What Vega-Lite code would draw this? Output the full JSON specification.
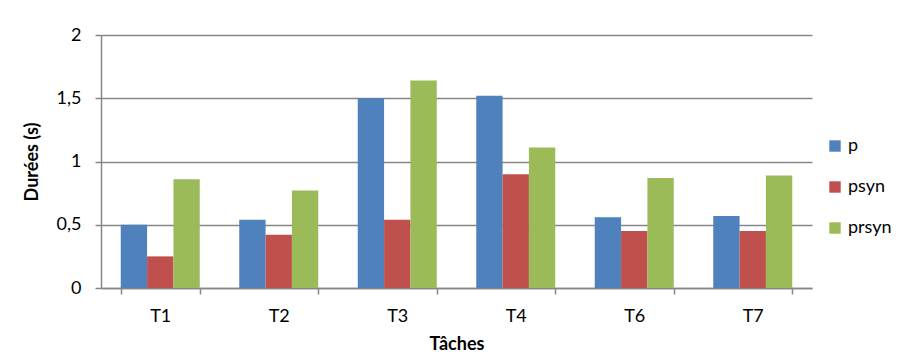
{
  "$schema": "https://vega.github.io/schema/vega-lite/v6.json",
  "autosize": "none",
  "width": 711,
  "height": 253,
  "padding": {"left": 101, "top": 35, "right": 102, "bottom": 67},
  "background": "white",
  "config": {
    "view": {"stroke": null},
    "font": "Lato",
    "axis": {
      "labelFont": "Lato",
      "labelFontSize": 18,
      "labelColor": "#000000",
      "titleFont": "Lato",
      "titleFontSize": 18,
      "titleFontWeight": "bold",
      "titleColor": "#000000",
      "domainColor": "#868686",
      "tickColor": "#868686",
      "gridColor": "#868686",
      "domainWidth": 1.5,
      "tickWidth": 1.5,
      "gridWidth": 1.5,
      "tickSize": 6
    },
    "legend": {
      "labelFont": "Lato",
      "labelFontSize": 18,
      "labelColor": "#000000"
    }
  },
  "data": {
    "values": [
      {"tache": "T1", "serie": "p", "duree": 0.5},
      {"tache": "T1", "serie": "psyn", "duree": 0.25},
      {"tache": "T1", "serie": "prsyn", "duree": 0.86},
      {"tache": "T2", "serie": "p", "duree": 0.54},
      {"tache": "T2", "serie": "psyn", "duree": 0.42},
      {"tache": "T2", "serie": "prsyn", "duree": 0.77},
      {"tache": "T3", "serie": "p", "duree": 1.5},
      {"tache": "T3", "serie": "psyn", "duree": 0.54},
      {"tache": "T3", "serie": "prsyn", "duree": 1.64},
      {"tache": "T4", "serie": "p", "duree": 1.52},
      {"tache": "T4", "serie": "psyn", "duree": 0.9},
      {"tache": "T4", "serie": "prsyn", "duree": 1.11},
      {"tache": "T6", "serie": "p", "duree": 0.56},
      {"tache": "T6", "serie": "psyn", "duree": 0.45},
      {"tache": "T6", "serie": "prsyn", "duree": 0.87},
      {"tache": "T7", "serie": "p", "duree": 0.57},
      {"tache": "T7", "serie": "psyn", "duree": 0.45},
      {"tache": "T7", "serie": "prsyn", "duree": 0.89}
    ]
  },
  "mark": {"type": "bar"},
  "encoding": {
    "x": {
      "field": "tache",
      "type": "nominal",
      "title": "Tâches",
      "scale": {"paddingInner": 0.3333, "paddingOuter": 0.1667},
      "axis": {
        "labelAngle": 0,
        "tickBand": "extent",
        "labelPadding": 13,
        "titlePadding": 10,
        "grid": false
      }
    },
    "xOffset": {
      "field": "serie",
      "type": "nominal",
      "sort": ["p", "psyn", "prsyn"],
      "scale": {"paddingInner": 0, "paddingOuter": 0}
    },
    "y": {
      "field": "duree",
      "type": "quantitative",
      "title": "Durées (s)",
      "scale": {"domain": [0, 2], "nice": false},
      "axis": {
        "values": [0, 0.5, 1, 1.5, 2],
        "labelExpr": "replace(format(datum.value, '~g'), '.', ',')",
        "labelPadding": 14,
        "titlePadding": 15,
        "grid": true
      }
    },
    "color": {
      "field": "serie",
      "type": "nominal",
      "title": null,
      "sort": ["p", "psyn", "prsyn"],
      "scale": {
        "domain": ["p", "psyn", "prsyn"],
        "range": ["#4F81BD", "#C0504D", "#9BBB59"]
      },
      "legend": {
        "orient": "none",
        "legendX": 725,
        "legendY": 102,
        "symbolType": "square",
        "symbolSize": 130,
        "symbolStrokeWidth": 0,
        "labelOffset": 4,
        "rowPadding": 23,
        "padding": 0
      }
    }
  }
}
